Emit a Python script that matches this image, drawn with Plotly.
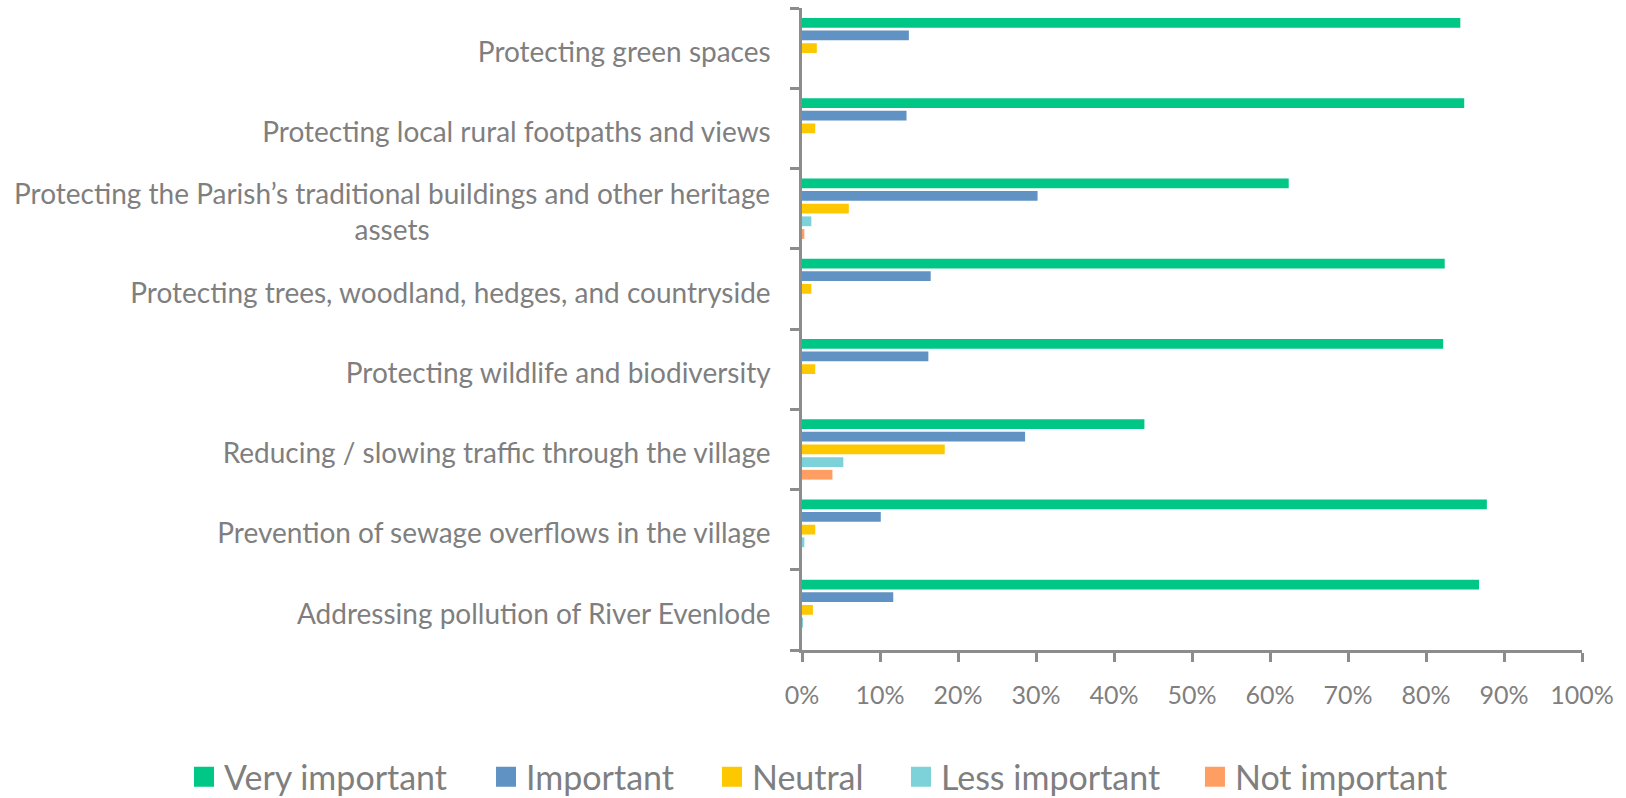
import plotly.graph_objects as go

categories = [
    "Protecting green spaces",
    "Protecting local rural footpaths and views",
    "Protecting the Parish’s traditional buildings and other heritage<br>assets",
    "Protecting trees, woodland, hedges, and countryside",
    "Protecting wildlife and biodiversity",
    "Reducing / slowing traffic through the village",
    "Prevention of sewage overflows in the village",
    "Addressing pollution of River Evenlode",
]
very_important = [84.4, 84.9, 62.4, 82.4, 82.2, 43.9, 87.8, 86.8]
important = [13.7, 13.4, 30.2, 16.5, 16.2, 28.6, 10.1, 11.7]
neutral = [1.9, 1.7, 6.0, 1.2, 1.7, 18.3, 1.7, 1.4]
less_important = [0.0, 0.0, 1.2, 0.0, 0.0, 5.3, 0.3, 0.1]
not_important = [0.0, 0.0, 0.3, 0.0, 0.0, 3.9, 0.0, 0.0]

series_names = ["Very important", "Important", "Neutral", "Less important", "Not important"]
series_values = [very_important, important, neutral, less_important, not_important]
colors = ["#00C786", "#6192C4", "#FDC800", "#7CD2D8", "#FF9E63"]
legend_ids = ["legend", "legend2", "legend3", "legend4", "legend5"]
legend_x = [-0.7923, -0.4051, -0.1154, 0.1269, 0.5038]

FONT = "Lato, Carlito, 'Open Sans', sans-serif"
GRAY = "#7F7F7F"
AXIS = "#8C8C8C"
LABEL_SIZE = 28

fig = go.Figure()
for name, vals, col, lid in zip(series_names, series_values, colors, legend_ids):
    fig.add_trace(go.Bar(
        y=categories, x=[v / 100 for v in vals], name=name, orientation="h",
        marker=dict(color=col, line=dict(width=0)), showlegend=False,
    ))
    # legend entry with a larger square swatch
    fig.add_trace(go.Scatter(
        x=[None], y=[None], mode="markers", name=name, legend=lid,
        marker=dict(symbol="square", size=16, color=col,
                    line=dict(color=col, width=4)),
    ))

# multi-line category labels are drawn centred (as in the original), single-line as ticks
tick_text = ["" if "<br>" in c else c for c in categories]
for c in categories:
    if "<br>" in c:
        fig.add_annotation(
            text=c, xref="paper", x=0, xanchor="right", xshift=-30,
            yref="y", y=c, yanchor="middle", yshift=-2, align="center",
            showarrow=False, font=dict(size=LABEL_SIZE, color=GRAY, family=FONT),
        )

legend_style = dict(orientation="h", xanchor="left", y=-0.198, yanchor="middle",
                    font=dict(size=34, color=GRAY), itemwidth=30,
                    bgcolor="rgba(0,0,0,0)")
legends = {lid: dict(legend_style, x=lx) for lid, lx in zip(legend_ids, legend_x)}

fig.update_layout(
    width=1626, height=798,
    margin=dict(l=802, r=44, t=8, b=148, autoexpand=False),
    paper_bgcolor="white", plot_bgcolor="white",
    barmode="group", bargap=0.21, bargroupgap=0.23,
    font=dict(family=FONT, color=GRAY, size=24),
    xaxis=dict(
        range=[0, 1], tickformat=".0%", dtick=0.1, tick0=0,
        showgrid=False, zeroline=False, automargin=False,
        showline=True, linecolor=AXIS, linewidth=2.5,
        ticks="outside", ticklen=9, tickwidth=2.5, tickcolor=AXIS,
        tickfont=dict(size=25, color=GRAY), ticklabelstandoff=12,
    ),
    yaxis=dict(
        autorange="reversed", showgrid=False, zeroline=False, automargin=False,
        showline=True, linecolor=AXIS, linewidth=2.5,
        ticks="outside", ticklen=9, tickwidth=2.5, tickcolor=AXIS,
        tickson="boundaries", tickfont=dict(size=LABEL_SIZE, color=GRAY),
        ticklabelstandoff=23, ticklabelshift=-4,
        tickmode="array", tickvals=categories, ticktext=tick_text,
    ),
    **legends,
)

fig.write_html("out.html", config={"displayModeBar": False},
               post_script="document.body.style.margin='0';")
